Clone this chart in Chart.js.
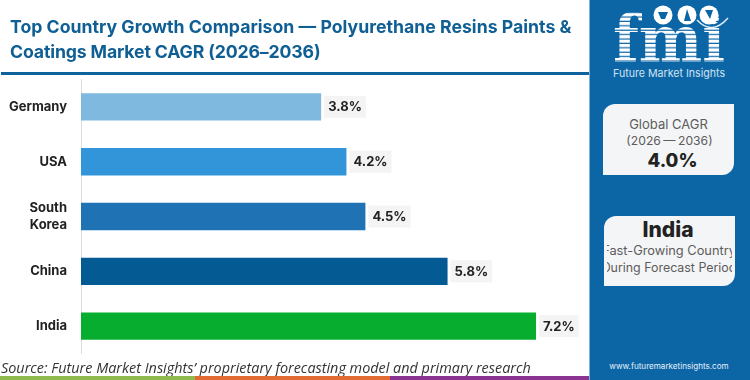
<!DOCTYPE html>
<html>
<head>
<meta charset="utf-8">
<script src="https://cdn.jsdelivr.net/npm/chart.js@4"></script>
<style>
html, body { margin: 0; padding: 0; background: #fff; }
body { width: 750px; height: 380px; position: relative; overflow: hidden; font-family: Inter, sans-serif; }
.abs { position: absolute; white-space: nowrap; }
#chart { position: absolute; left: 0; top: 0; }
#title { left: 10px; top: 14px; color: #0f5f95; font-weight: 700; font-size: 17.7px; line-height: 25px; }
#rule { left: 1px; top: 72px; width: 589px; height: 3px; background: #0f639c; }
#source { left: 1px; top: 358px; font-family: "Open Sans", sans-serif; font-style: italic; font-size: 14.4px; color: #333; }
.strip { top: 376px; height: 4px; }
#panel { left: 590px; top: 0; width: 160px; height: 380px; background: #0c66a6; border-left: 1px solid #7db2d6; margin-left: -1px; }
.card { position: absolute; left: 603px; width: 131px; background: #f4f5f6; border-radius: 12px 0 12px 0; overflow: hidden; text-align: center; }
.card div { position: absolute; left: 3px; right: 3px; overflow: hidden; white-space: nowrap; display: flex; justify-content: center; }
.card span { flex: none; }
.light { color: #5c5c5c; font-size: 13px; }
.big { color: #222; font-weight: 800; }
#site { left: 590px; width: 158px; text-align: center; top: 361px; font-size: 8.1px; color: #e4f0f8; }
</style>
</head>
<body>
<canvas id="chart" width="590" height="376"></canvas>
<div class="abs" id="title">Top Country Growth Comparison — Polyurethane Resins Paints &amp;<br><span style="letter-spacing:-0.15px">Coatings Market CAGR (2026–2036)</span></div>
<div class="abs" id="rule"></div>
<div class="abs" id="source">Source: Future Market Insights’ proprietary forecasting model and primary research</div>
<div class="abs strip" style="left:0;width:195px;background:#8fba4e"></div>
<div class="abs strip" style="left:195px;width:195px;background:#e26b34"></div>
<div class="abs strip" style="left:390px;width:200px;background:#8a3390"></div>
<div class="abs" id="panel"></div>
<svg class="abs" style="left:590px;top:0" width="160" height="80" viewBox="0 0 160 80">
  <defs>
    <pattern id="stripes" width="4" height="4.4" patternUnits="userSpaceOnUse">
      <rect width="4" height="3.2" fill="#fff"/>
    </pattern>
  </defs>
  <text x="23" y="62" font-family="DejaVu Serif" font-weight="700" font-size="65" textLength="112" lengthAdjust="spacingAndGlyphs" fill="url(#stripes)">fmi</text>
  <circle cx="73" cy="15" r="9.5" fill="#fff"/>
  <circle cx="97" cy="15" r="9.5" fill="#fff"/>
  <circle cx="119" cy="15" r="9.5" fill="#fff"/>
  <path d="M68 12h10l-3 7h-4zM94 21l3-12 4 12zM115 10h8l-3 9z" fill="#0c66a6"/>
  <path d="M107 20 Q122 36 138 18" fill="none" stroke="#dcebf5" stroke-width="1.5"/>
  <text x="23" y="77" font-family="Inter" font-size="11" textLength="112" lengthAdjust="spacingAndGlyphs" fill="#cfe2f1">Future Market Insights</text>
</svg>
<div class="card" style="top:104px;height:71px">
  <div class="light" style="top:12px"><span>Global CAGR</span></div>
  <div class="light" style="top:29px;left:5px;font-size:12.2px;word-spacing:-1px"><span>(2026 — 2036)</span></div>
  <div class="big" style="top:45px;left:11px;font-size:18.5px"><span>4.0%</span></div>
</div>
<div class="card" style="top:216px;height:70px;left:603.5px">
  <div class="big" style="top:1px;right:5px;font-size:21px"><span>India</span></div>
  <div class="light" style="top:27px;font-size:12.8px"><span>Fast-Growing Country</span></div>
  <div class="light" style="top:44px;font-size:12.4px"><span>During Forecast Period</span></div>
</div>
<div class="abs" id="site">www.futuremarketinsights.com</div>

<script>
// Datos del gráfico
const countries = ['Germany', 'USA', ['South', 'Korea'], 'China', 'India'];
const cagrValues = [3.8, 4.2, 4.5, 5.8, 7.2];
const barColors = ['#7fb9e0', '#3295da', '#1f72b3', '#045a93', '#07ad2f'];

// Etiquetas de valor con fondo gris al final de cada barra
const valueLabels = {
    id: 'valueLabels',
    afterDatasetsDraw(chart) {
        const ctx = chart.ctx;
        ctx.save();
        ctx.font = '700 13px Inter';
        ctx.textBaseline = 'middle';
        chart.getDatasetMeta(0).data.forEach((bar, i) => {
            const text = cagrValues[i].toFixed(1) + '%';
            const w = ctx.measureText(text).width;
            ctx.fillStyle = '#f4f4f4';
            ctx.fillRect(bar.x + 3, bar.y - 11, w + 8, 22);
            ctx.fillStyle = '#222';
            ctx.fillText(text, bar.x + 7, bar.y + 0.5);
        });
        ctx.restore();
    }
};

const chart = new Chart(document.getElementById('chart').getContext('2d'), {
    type: 'bar',
    data: {
        labels: countries,
        datasets: [{
            data: cagrValues,
            backgroundColor: barColors,
            borderWidth: 0,
            categoryPercentage: 0.5,
            barPercentage: 1
        }]
    },
    options: {
        indexAxis: 'y',
        responsive: false,
        animation: false,
        layout: { padding: { top: 79.5, bottom: 16.55, right: 3.4, left: 0 } },
        scales: {
            x: { display: false, min: 0, max: 8, grid: { display: false } },
            y: {
                afterFit(axis) { axis.width = 81; },
                grid: { display: false, drawTicks: false },
                border: { display: true, color: '#dddddd', width: 1 },
                ticks: {
                    color: '#222',
                    padding: 14,
                    font: { family: 'Inter', weight: '700', size: 13, lineHeight: 1.3 }
                }
            }
        },
        plugins: {
            legend: { display: false },
            tooltip: { enabled: false }
        }
    },
    plugins: [valueLabels]
});
</script>
</body>
</html>
